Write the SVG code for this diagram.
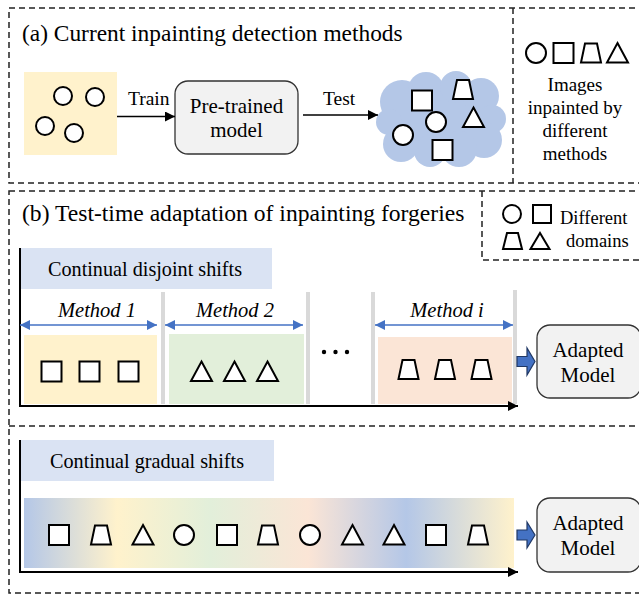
<svg xmlns="http://www.w3.org/2000/svg" width="639" height="595" viewBox="0 0 639 595" font-family="'Liberation Serif', 'Times New Roman', serif">
<style>
text{fill:#000}
.dash{fill:none;stroke:#222;stroke-width:1.5;stroke-dasharray:6 4}
.sh{fill:#fff;stroke:#000;stroke-width:2;stroke-linejoin:miter}
.axis{stroke:#000;stroke-width:2;fill:none}
.bar{fill:#d9d9d9}
.blue{stroke:#4472c4;stroke-width:1.5;fill:none}
.rbox{fill:#f2f2f2;stroke:#333;stroke-width:1.3}
.lbl{fill:#dae3f3}
.fat{fill:#4472c4;stroke:#203864;stroke-width:1.2}
</style>
<defs>
<marker id="ah" viewBox="0 0 10 10" refX="10" refY="5" markerWidth="10" markerHeight="10" markerUnits="userSpaceOnUse" orient="auto"><path d="M0,0 L10,5 L0,10 Z" fill="#000"/></marker>
<marker id="bh" viewBox="0 0 10 10" refX="10" refY="5" markerWidth="11" markerHeight="10" markerUnits="userSpaceOnUse" orient="auto-start-reverse"><path d="M0,0 L10,5 L0,10 Z" fill="#4472c4"/></marker>
<linearGradient id="grad" x1="0" y1="0" x2="1" y2="0">
<stop offset="0" stop-color="#b4c7e7"/>
<stop offset="0.19" stop-color="#fff2cc"/>
<stop offset="0.38" stop-color="#e2efda"/>
<stop offset="0.58" stop-color="#fbe5d6"/>
<stop offset="0.78" stop-color="#b4c7e7"/>
<stop offset="1" stop-color="#fff2cc"/>
</linearGradient>
<g id="sq"><rect class="sh" x="-10" y="-10" width="20" height="20"/></g>
<g id="tri"><path class="sh" d="M0,-10 L10.5,9.5 L-10.5,9.5 Z"/></g>
<g id="trap"><path class="sh" d="M-6,-9.5 L6,-9.5 L10,9.5 L-10,9.5 Z"/></g>
<g id="cir"><circle class="sh" r="10"/></g>
</defs>

<!-- frames -->
<g id="frames">
<rect class="dash" x="9" y="8" width="640" height="175"/>
<line class="dash" x1="513" y1="8" x2="513" y2="183"/>
<rect class="dash" x="9" y="191" width="640" height="402"/>
<line class="dash" x1="9" y1="426" x2="639" y2="426"/>
<polyline class="dash" points="482,191 482,260 639,260"/>
</g>

<g id="titles">
<text x="22" y="41" font-size="23.4">(a) Current inpainting detection methods</text>
<text x="22" y="221" font-size="23.6">(b) Test-time adaptation of inpainting forgeries</text>
</g>

<!-- (a) -->
<g id="train-set">
<rect x="24" y="72" width="93" height="83" fill="#fff2cc"/>
<circle class="sh" cx="63" cy="96" r="9"/>
<circle class="sh" cx="95" cy="97" r="9"/>
<circle class="sh" cx="45" cy="126" r="9"/>
<circle class="sh" cx="74" cy="133" r="9"/>
</g>
<g id="pretrained">
<rect class="rbox" x="175" y="81" width="123" height="73" rx="13"/>
<text x="236.5" y="113" font-size="21" text-anchor="middle">Pre-trained</text>
<text x="236.5" y="137" font-size="21" text-anchor="middle">model</text>
</g>
<g id="test-cloud">
<g fill="#b4c7e7">
<ellipse cx="440" cy="120" rx="56" ry="38"/>
<circle cx="402" cy="102" r="22"/>
<circle cx="426" cy="90" r="18"/>
<circle cx="456" cy="87" r="16"/>
<circle cx="481" cy="96" r="18"/>
<circle cx="492" cy="119" r="14"/>
<circle cx="484" cy="140" r="18"/>
<circle cx="459" cy="149" r="18"/>
<circle cx="430" cy="151" r="16"/>
<circle cx="401" cy="144" r="18"/>
<circle cx="389" cy="122" r="13"/>
</g>
<use href="#sq" x="422" y="100.5"/>
<use href="#trap" x="463" y="89.5"/>
<use href="#cir" x="436" y="122"/>
<use href="#tri" x="473.5" y="117.5"/>
<use href="#cir" x="403" y="135"/>
<use href="#sq" x="442.5" y="150"/>
</g>
<g id="legend-a">
<use href="#cir" x="536" y="53"/>
<use href="#sq" x="563.5" y="53"/>
<use href="#trap" x="591" y="53"/>
<use href="#tri" x="617.5" y="53"/>
<g font-size="19" text-anchor="middle">
<text x="575" y="91">Images</text>
<text x="575" y="114">inpainted by</text>
<text x="575" y="137">different</text>
<text x="575" y="160">methods</text>
</g>
</g>

<!-- legend b -->
<g id="legend-b">
<circle class="sh" cx="512" cy="214" r="9"/>
<rect class="sh" x="533" y="205" width="18" height="18"/>
<path class="sh" d="M507,233 L518,233 L522,249 L503,249 Z"/>
<path class="sh" d="M540,233 L549.5,249 L530.5,249 Z"/>
<text x="560" y="224" font-size="18.5">Different</text>
<text x="566" y="247" font-size="18.5">domains</text>
</g>

<!-- disjoint -->
<g id="disjoint">
<rect class="lbl" x="20" y="248" width="252" height="41"/>
<text x="48" y="275.5" font-size="20.2">Continual disjoint shifts</text>
<rect class="bar" x="161" y="292" width="4" height="112"/>
<rect class="bar" x="306" y="292" width="4" height="112"/>
<rect class="bar" x="371" y="292" width="4" height="112"/>
<rect class="bar" x="513" y="290" width="4" height="114"/>
<g id="method1">
<text x="97" y="317" font-size="20.5" font-style="italic" text-anchor="middle">Method 1</text>
<rect x="24" y="335" width="133" height="69" fill="#fff2cc"/>
<use href="#sq" x="51.5" y="371.5"/>
<use href="#sq" x="89.5" y="371.5"/>
<use href="#sq" x="128.5" y="371.5"/>
</g>
<g id="method2">
<text x="235" y="317" font-size="20.5" font-style="italic" text-anchor="middle">Method 2</text>
<rect x="169" y="334" width="135" height="70" fill="#e2efda"/>
<use href="#tri" x="201.5" y="371.5"/>
<use href="#tri" x="234.5" y="371.5"/>
<use href="#tri" x="267.5" y="371.5"/>
</g>
<g id="dots" fill="#000">
<circle cx="324" cy="352" r="2.2"/>
<circle cx="335.5" cy="352" r="2.2"/>
<circle cx="347" cy="352" r="2.2"/>
</g>
<g id="methodi">
<text x="447" y="317" font-size="20.5" font-style="italic" text-anchor="middle">Method i</text>
<rect x="378" y="337" width="134" height="67" fill="#fbe5d6"/>
<use href="#trap" x="408.5" y="369.5"/>
<use href="#trap" x="445" y="369.5"/>
<use href="#trap" x="481.5" y="369.5"/>
</g>
<g id="adapted1">
<rect class="rbox" x="537" y="325" width="104" height="73" rx="13"/>
<text x="588" y="357" font-size="21" text-anchor="middle">Adapted</text>
<text x="588" y="382" font-size="21" text-anchor="middle">Model</text>
</g>
</g>

<!-- gradual -->
<g id="gradual">
<rect class="lbl" x="20" y="440" width="254" height="41"/>
<text x="50" y="468" font-size="20.2">Continual gradual shifts</text>
<rect x="24" y="498" width="490" height="70" fill="url(#grad)"/>
<use href="#sq" x="59" y="535"/>
<use href="#trap" x="101" y="535"/>
<use href="#tri" x="143" y="535"/>
<use href="#cir" x="184" y="535"/>
<use href="#sq" x="227" y="535"/>
<use href="#trap" x="268" y="535"/>
<use href="#cir" x="310" y="535"/>
<use href="#tri" x="352.5" y="535"/>
<use href="#tri" x="394" y="535"/>
<use href="#sq" x="436" y="535"/>
<use href="#trap" x="478" y="535"/>
<g id="adapted2">
<rect class="rbox" x="537" y="498" width="104" height="74" rx="13"/>
<text x="588" y="530" font-size="21" text-anchor="middle">Adapted</text>
<text x="588" y="555" font-size="21" text-anchor="middle">Model</text>
</g>
</g>

<!-- connectors -->
<g id="connectors">
<line x1="117" y1="116.5" x2="175" y2="116.5" stroke="#000" stroke-width="1.5" marker-end="url(#ah)"/>
<text x="128" y="105" font-size="19.5">Train</text>
<line x1="303" y1="115" x2="378" y2="115" stroke="#000" stroke-width="1.5" marker-end="url(#ah)"/>
<text x="323" y="105" font-size="19.5">Test</text>
<polyline class="axis" points="20,248 20,406 507,406"/>
<line x1="505" y1="406" x2="518" y2="406" stroke="#000" stroke-width="2" marker-end="url(#ah)"/>
<polyline class="axis" points="20,440 20,572 507,572"/>
<line x1="505" y1="572" x2="518" y2="572" stroke="#000" stroke-width="2" marker-end="url(#ah)"/>
<line class="blue" x1="20" y1="325" x2="157" y2="325" marker-start="url(#bh)" marker-end="url(#bh)"/>
<line class="blue" x1="165" y1="325" x2="303" y2="325" marker-start="url(#bh)" marker-end="url(#bh)"/>
<line class="blue" x1="375" y1="325" x2="513" y2="325" marker-start="url(#bh)" marker-end="url(#bh)"/>
<path class="fat" d="M517,356.5 H527 V348 L535,361.5 L527,375 V366.5 H517 Z"/>
<path class="fat" d="M517,530 H527 V522 L535,535 L527,548 V540 H517 Z"/>
</g>
</svg>
